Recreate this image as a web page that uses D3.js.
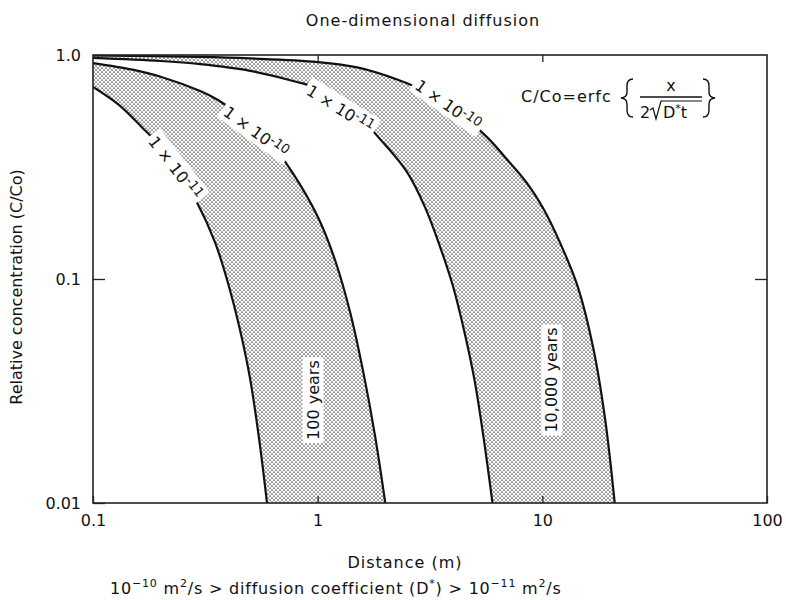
<!DOCTYPE html>
<html lang="en">
<head>
    <meta charset="UTF-8">
    <title>One-dimensional diffusion</title>
    <script src="https://d3js.org/d3.v7.min.js"></script>
    <style>
        body { margin: 0; background: #fff; }
        svg { font-family: "DejaVu Sans", sans-serif; }
        .frame { fill: none; stroke: #222; stroke-width: 1.6; }
        .curve { fill: none; stroke: #111; stroke-width: 2.2; }
        .band { fill: url(#dots); stroke: none; }
        .axis path { display: none; }
        .axis line { stroke: #222; stroke-width: 1.3; }
        .axis text { font-size: 16px; fill: #111; font-family: "DejaVu Sans", sans-serif; }
        .lbl { fill: #111; }
    </style>
</head>
<body>
<script>
    const width = 786;
    const height = 600;
    const margin = {top: 55, right: 19, bottom: 97, left: 93};

    // tick values / labels
    const xTicks = [0.1, 1, 10, 100];
    const xTickLabels = ["0.1", "1", "10", "100"];
    const yTicks = [0.01, 0.1, 1];
    const yTickLabels = ["0.01", "0.1", "1.0"];

    // curves: [distance m, C/Co]
    // 100 years, D* = 1e-11
    const curve100Low = [[0.1, 0.72], [0.13, 0.6], [0.167, 0.47], [0.2, 0.39], [0.25, 0.28], [0.29, 0.22],
        [0.35, 0.145], [0.4, 0.095], [0.45, 0.06], [0.5, 0.036], [0.55, 0.019], [0.595, 0.01]];
    // 100 years, D* = 1e-10
    const curve100High = [[0.1, 0.92], [0.15, 0.86], [0.2, 0.8], [0.3, 0.69], [0.36, 0.63], [0.5, 0.5],
        [0.6, 0.42], [0.77, 0.3], [1.0, 0.19], [1.2, 0.12], [1.4, 0.07], [1.6, 0.038], [1.8, 0.02], [2.0, 0.01]];
    // 10,000 years, D* = 1e-11
    const curve10kLow = [[0.1, 0.97], [0.2, 0.94], [0.3, 0.91], [0.5, 0.85], [0.8, 0.76], [1.0, 0.71],
        [1.5, 0.54], [1.9, 0.42], [2.5, 0.3], [3.0, 0.21], [3.5, 0.14], [4.0, 0.093], [4.5, 0.058],
        [5.0, 0.035], [5.5, 0.019], [6.0, 0.01]];
    // 10,000 years, D* = 1e-10
    const curve10kHigh = [[0.1, 0.995], [0.3, 0.98], [0.5, 0.965], [1.0, 0.93], [1.5, 0.88], [2.32, 0.77],
        [3.0, 0.69], [4.0, 0.58], [5.67, 0.43], [7.0, 0.34], [8.5, 0.27], [10, 0.21], [12, 0.145],
        [14.4, 0.092], [16.8, 0.05], [19, 0.024], [21, 0.01]];

    // curve labels: [x, y, angle, exponent]
    const curveLabels = [
        [0.232, 0.313, 52, "-11"],
        [0.531, 0.453, 36, "-10"],
        [1.26, 0.574, 32, "-11"],
        [3.8, 0.598, 35, "-10"]
    ];
    // band labels: [x, y, text]
    const bandLabels = [
        [0.953, 0.0288, "100 years"],
        [11.0, 0.0354, "10,000 years"]
    ];

    const w = width - margin.left - margin.right;
    const h = height - margin.top - margin.bottom;

    const svg = d3.select("body").append("svg")
        .attr("width", width).attr("height", height)
        .style("display", "block");

    const defs = svg.append("defs");
    const pat = defs.append("pattern")
        .attr("id", "dots")
        .attr("patternUnits", "userSpaceOnUse")
        .attr("width", 4).attr("height", 4);
    pat.append("circle").attr("cx", 1).attr("cy", 1).attr("r", 0.85).attr("fill", "#444");
    pat.append("circle").attr("cx", 3).attr("cy", 3).attr("r", 0.85).attr("fill", "#444");
    defs.append("clipPath").attr("id", "plotclip")
        .append("rect").attr("width", w).attr("height", h);

    const g = svg.append("g").attr("transform", `translate(${margin.left},${margin.top})`);

    const x = d3.scaleLog().domain([0.1, 100]).range([0, w]);
    const y = d3.scaleLog().domain([0.01, 1]).range([h, 0]);

    const line = d3.line()
        .x(d => x(d[0]))
        .y(d => y(d[1]))
        .curve(d3.curveCatmullRom.alpha(0.5));

    function bandPath(upper, lower) {
        const rev = lower.slice().reverse();
        return line(upper) + "L" + line(rev).slice(1) + "Z";
    }

    const plot = g.append("g").attr("clip-path", "url(#plotclip)");

    plot.selectAll("path.band")
        .data([[curve100High, curve100Low], [curve10kHigh, curve10kLow]])
        .enter().append("path")
        .attr("class", "band")
        .attr("d", d => bandPath(d[0], d[1]));

    plot.selectAll("path.curve")
        .data([curve100Low, curve100High, curve10kLow, curve10kHigh])
        .enter().append("path")
        .attr("class", "curve")
        .attr("d", line);

    // put a white box behind a label so it clears the line and the dots
    function whiteBox(grp) {
        grp.each(function() {
            const gg = d3.select(this);
            const b = gg.select("text").node().getBBox();
            gg.insert("rect", "text")
                .attr("x", b.x - 3).attr("y", b.y - 1)
                .attr("width", b.width + 6).attr("height", b.height + 2)
                .attr("fill", "#fff");
        });
    }

    const cg = plot.selectAll("g.clabel")
        .data(curveLabels)
        .enter().append("g")
        .attr("class", "clabel")
        .attr("transform", d => `translate(${x(d[0])},${y(d[1])}) rotate(${d[2]})`);
    const ct = cg.append("text").attr("class", "lbl")
        .style("font-size", "16px")
        .attr("text-anchor", "middle")
        .attr("dy", "0.35em");
    ct.append("tspan").text("1 \u00d7 10");
    ct.append("tspan").attr("dy", -5).style("font-size", "13px").text(d => d[3]);
    whiteBox(cg);

    const bg = plot.selectAll("g.blabel")
        .data(bandLabels)
        .enter().append("g")
        .attr("class", "blabel")
        .attr("transform", d => `translate(${x(d[0])},${y(d[1])}) rotate(-90)`);
    bg.append("text").attr("class", "lbl")
        .style("font-size", "16px")
        .attr("text-anchor", "middle")
        .attr("dy", "0.35em")
        .text(d => d[2]);
    whiteBox(bg);

    // axes with inward ticks
    g.append("g").attr("class", "axis")
        .attr("transform", `translate(0,${h})`)
        .call(d3.axisBottom(x).tickValues(xTicks).tickSizeInner(-7).tickSizeOuter(0).tickPadding(12)
            .tickFormat((d, i) => xTickLabels[i]));
    g.append("g").attr("class", "axis")
        .call(d3.axisTop(x).tickValues([1, 10]).tickSizeInner(-7).tickSizeOuter(0).tickFormat(""));
    g.append("g").attr("class", "axis")
        .call(d3.axisLeft(y).tickValues(yTicks).tickSizeInner(-12).tickSizeOuter(0).tickPadding(12)
            .tickFormat((d, i) => yTickLabels[i]));
    g.append("g").attr("class", "axis")
        .attr("transform", `translate(${w},0)`)
        .call(d3.axisRight(y).tickValues([0.1]).tickSizeInner(-12).tickSizeOuter(0).tickFormat(""));

    g.append("rect").attr("class", "frame").attr("width", w).attr("height", h);

    // title and axis titles
    svg.append("text").attr("class", "lbl")
        .style("font-size", "16px")
        .attr("x", 423).attr("y", 26)
        .attr("text-anchor", "middle")
        .attr("letter-spacing", "1px")
        .text("One-dimensional diffusion");

    svg.append("text").attr("class", "lbl")
        .style("font-size", "16px")
        .attr("x", 405).attr("y", 568)
        .attr("text-anchor", "middle")
        .attr("letter-spacing", "1px")
        .text("Distance (m)");

    svg.append("text").attr("class", "lbl")
        .style("font-size", "16px")
        .attr("transform", "translate(22,287) rotate(-90)")
        .attr("text-anchor", "middle")
        .text("Relative concentration (C/Co)");

    // footer with superscripts, dy in px so the baseline comes back each time
    const footParts = [
        ["10", 0], ["\u221210", 1], [" m", 0], ["2", 1], ["/s > diffusion coefficient (D", 0], ["*", 1],
        [") > 10", 0], ["\u221211", 1], [" m", 0], ["2", 1], ["/s", 0]
    ];
    const foot = svg.append("text").attr("class", "lbl")
        .style("font-size", "16px")
        .attr("x", 110).attr("y", 594)
        .attr("letter-spacing", "0.8px");
    let up = 0;
    footParts.forEach(p => {
        const dy = p[1] === up ? 0 : (p[1] ? -7 : 7);
        up = p[1];
        foot.append("tspan").attr("dy", dy)
            .style("font-size", p[1] ? "11px" : "16px")
            .text(p[0]);
    });

    // formula box: C/Co = erfc { x / (2 sqrt(D* t)) }
    const f = svg.append("g").attr("class", "formula");
    f.append("text").attr("class", "lbl").attr("x", 521).attr("y", 102)
        .style("font-size", "16px")
        .attr("letter-spacing", "1px").text("C/Co=erfc");
    // thin hand-drawn style braces
    f.append("path")
        .attr("d", "M633,79 Q627,79 627,86 L627,92 Q627,97.5 621,98 Q627,98.5 627,104 L627,110 Q627,117 633,117")
        .attr("fill", "none").attr("stroke", "#111").attr("stroke-width", 1.4);
    f.append("path")
        .attr("d", "M703,79 Q709,79 709,86 L709,92 Q709,97.5 715,98 Q709,98.5 709,104 L709,110 Q709,117 703,117")
        .attr("fill", "none").attr("stroke", "#111").attr("stroke-width", 1.4);
    f.append("text").attr("class", "lbl").attr("x", 671).attr("y", 91)
        .style("font-size", "16px")
        .attr("text-anchor", "middle").text("x");
    f.append("line").attr("x1", 640).attr("x2", 702).attr("y1", 97).attr("y2", 97)
        .attr("stroke", "#111").attr("stroke-width", 1.3);
    f.append("text").attr("class", "lbl").attr("x", 640).attr("y", 118)
        .style("font-size", "16px").text("2");
    f.append("path")
        .attr("d", "M650,110 L653,108 L656,119 L661,101 L702,101")
        .attr("fill", "none").attr("stroke", "#111").attr("stroke-width", 1.2);
    const den = f.append("text").attr("class", "lbl").attr("x", 663).attr("y", 118)
        .style("font-size", "16px");
    den.append("tspan").text("D");
    den.append("tspan").attr("dy", -6).style("font-size", "11px").text("*");
    den.append("tspan").attr("dy", 6).text("t");
</script>
</body>
</html>
